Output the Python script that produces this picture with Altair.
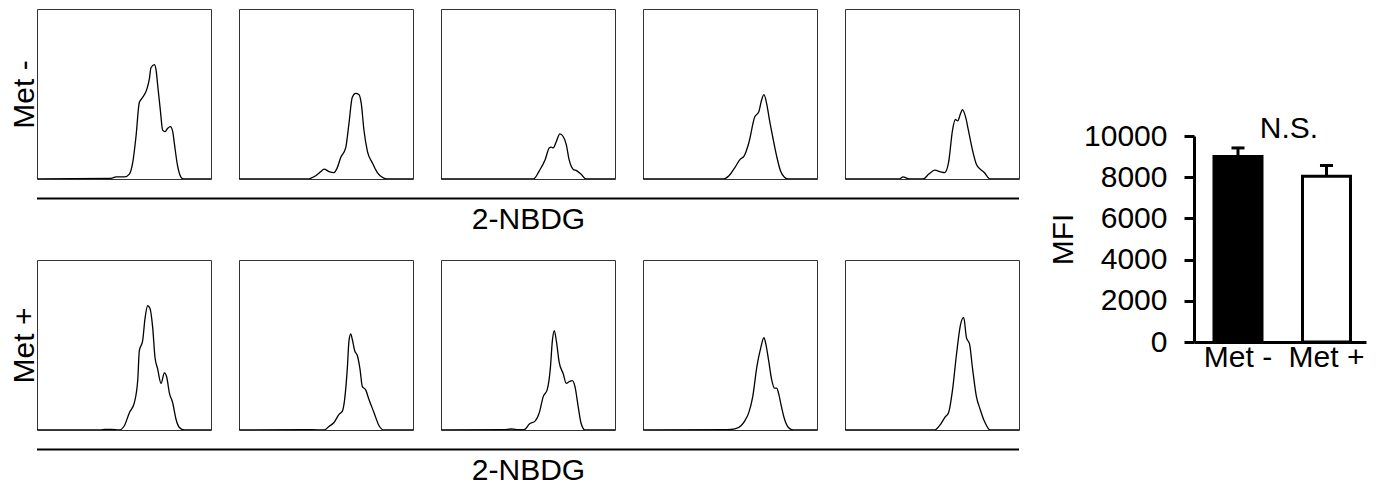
import altair as alt
import pandas as pd

FONT = "Liberation Sans"
FS = 30

# ---- flow histograms: x = % along 2-NBDG axis, y = % of panel height ----
# Met - samples
mm1_x = [0, 42.5, 45.4, 50.2, 53.1, 55.0, 56.9, 58.8, 60.7, 63.2, 64.6, 65.5, 67.4, 68.4, 69.3, 70.9, 72.2, 73.6, 75.1, 76.6, 78.0, 78.9, 80.8, 82.8, 84.3, 100]
mm1_y = [0, 0.4, 1.3, 1.2, 2.9, 9.6, 25, 45, 48, 53, 59, 65.4, 67.3, 64.4, 55.8, 40.4, 28.8, 27.9, 29.8, 30.8, 27.9, 21.2, 7.7, 1, 0, 0]
mm2_x = [0, 39.3, 44.1, 46.9, 48.9, 51.7, 54.6, 56.5, 58.4, 61.3, 63.2, 65.1, 67.0, 69.0, 70.3, 71.8, 73.8, 76.6, 79.5, 82.4, 85.2, 100]
mm2_y = [0, 0, 1.9, 4.2, 5.8, 4.4, 3.8, 6.7, 12.5, 18.3, 32.7, 48.1, 50.4, 49.6, 44.2, 28.8, 16.3, 9.6, 3.8, 1.0, 0, 0]
mm3_x = [0, 53.1, 56.5, 59.9, 62.2, 63.3, 64.5, 66.3, 68.3, 70.2, 72.0, 73.6, 75.9, 78.1, 80.4, 83.4, 100]
mm3_y = [0, 0, 4.8, 11.5, 18.3, 18.8, 18.3, 22.1, 26.5, 25.0, 20.2, 11.5, 5.8, 4.8, 2.9, 0, 0]
mm4_x = [0, 46.0, 49.4, 52.8, 55.8, 58.1, 60.8, 64.2, 66.5, 68.1, 69.5, 71.1, 72.7, 74.5, 76.8, 79.0, 81.3, 83.6, 100]
mm4_y = [0, 0, 1.9, 6.7, 11.5, 13.5, 21.2, 36.5, 39.4, 46.2, 49.6, 44.2, 34.6, 25.0, 13.5, 4.8, 1.0, 0, 0]
mm5_x = [0, 31.1, 33.4, 35.7, 38.0, 44.8, 48.2, 51.6, 55.0, 57.3, 59.5, 61.8, 63.4, 64.8, 66.4, 67.5, 69.3, 70.9, 73.2, 75.5, 77.7, 80.0, 83.4, 100]
mm5_y = [0, 0, 1.3, 0.4, 0, 0, 2.9, 5.2, 4.2, 3.8, 9.6, 28.8, 35.0, 34.2, 38.5, 40.8, 36.5, 28.8, 17.3, 8.7, 5.8, 3.8, 0, 0]

# Met + samples
mp1_x = [0, 36.8, 38.7, 42.5, 47.3, 50.2, 53.1, 55.9, 57.9, 58.8, 60.7, 62.1, 63.6, 64.9, 66.5, 67.8, 69.3, 71.3, 73.2, 74.5, 76.1, 78.0, 79.9, 81.8, 84.7, 100]
mp1_y = [0, 0, 0.4, 0.4, 0, 2.5, 10.2, 15.9, 29.4, 46.6, 52.4, 65.8, 73.1, 71.6, 60.1, 42.8, 36.1, 27.4, 33.6, 31.3, 21.7, 15.9, 6.3, 1.5, 0, 0]
mp2_x = [0, 37.4, 42.1, 48.9, 51.7, 54.6, 57.5, 59.4, 60.7, 62.3, 63.2, 64.2, 65.1, 66.5, 68.0, 69.5, 70.9, 72.8, 74.7, 77.6, 80.5, 83.3, 100]
mp2_y = [0, 0.2, 0.2, 0, 2.1, 4.4, 9.2, 11.1, 17.9, 37.0, 52.4, 56.6, 53.4, 46.6, 43.8, 36.1, 25.5, 23.6, 17.9, 10.2, 2.5, 0, 0]
mp3_x = [0, 36.0, 40.5, 45.1, 47.8, 50.8, 54.2, 56.5, 58.8, 61.0, 62.9, 64.0, 65.1, 66.3, 67.9, 70.2, 72.0, 73.6, 75.4, 77.0, 78.8, 80.4, 82.7, 100]
mp3_y = [0, 0.2, 0.6, 0.2, 0.2, 3.5, 5.4, 10.2, 19.8, 23.6, 37.0, 52.4, 58.5, 52.4, 39.9, 33.2, 27.4, 28.4, 29.0, 25.5, 14.0, 4.4, 0, 0]
mp4_x = [0, 48.3, 52.8, 56.3, 58.5, 60.8, 63.1, 65.4, 67.7, 69.5, 70.6, 72.2, 74.0, 75.6, 76.8, 77.9, 79.5, 81.3, 83.6, 86.3, 100]
mp4_y = [0, 0.2, 0.6, 2.5, 5.4, 10.2, 19.8, 37.0, 48.5, 54.3, 50.5, 40.9, 29.4, 24.6, 24.6, 21.7, 14.0, 6.5, 1.5, 0, 0]
mp5_x = [0, 51.6, 55.0, 57.3, 59.5, 61.8, 64.1, 66.4, 68.2, 69.8, 71.6, 73.2, 75.5, 77.7, 80.0, 83.4, 100]
mp5_y = [0, 0, 3.5, 7.3, 10.2, 23.6, 44.7, 62.0, 66.2, 54.3, 50.5, 37.0, 19.8, 12.1, 5.4, 0, 0]

# ---- bar chart ----
groups = ["Met -", "Met +"]
mfi_mean = [9000, 8050]
mfi_sem = [420, 520]
mfi_ticks = [0, 2000, 4000, 6000, 8000, 10000]
sig_label = ["N.S."]

ROW_LABELS = ["Met -", "Met +"]
X_LABEL = "2-NBDG"

PW, PH = 174, 170


def panel(xs, ys, row_title=None):
    df = pd.DataFrame({"x": xs, "y": ys})
    if row_title:
        y_axis = alt.Axis(title=row_title, labels=False, ticks=False, domain=False, grid=False,
                          titleFontSize=FS, titleFont=FONT, titleFontWeight="normal",
                          titleColor="black", titlePadding=-2)
    else:
        y_axis = None
    return alt.Chart(df).mark_line(color="black", strokeWidth=1.3, interpolate="monotone",
                                   strokeJoin="round", clip=True).encode(
        x=alt.X("x:Q", scale=alt.Scale(domain=[0, 100], nice=False, zero=False), axis=None),
        y=alt.Y("y:Q", scale=alt.Scale(domain=[0, 100], nice=False), axis=y_axis),
    ).properties(width=PW, height=PH)


def axis_line():
    df = pd.DataFrame({"start": [0], "end": [100]})
    return alt.Chart(df).mark_rule(color="black", strokeWidth=2).encode(
        x=alt.X("start:Q", scale=alt.Scale(domain=[0, 100], nice=False),
                axis=alt.Axis(title=X_LABEL, labels=False, ticks=False, domain=False, grid=False,
                              titleFontSize=FS, titleFont=FONT, titleFontWeight="normal",
                              titleColor="black", titlePadding=5)),
        x2="end:Q",
    ).properties(width=982, height=1, view=alt.ViewBackground(stroke="transparent"))


row1 = alt.hconcat(
    panel(mm1_x, mm1_y, ROW_LABELS[0]), panel(mm2_x, mm2_y), panel(mm3_x, mm3_y),
    panel(mm4_x, mm4_y), panel(mm5_x, mm5_y), spacing=28, bounds="flush")
row2 = alt.hconcat(
    panel(mp1_x, mp1_y, ROW_LABELS[1]), panel(mp2_x, mp2_y), panel(mp3_x, mp3_y),
    panel(mp4_x, mp4_y), panel(mp5_x, mp5_y), spacing=28, bounds="flush")

left = alt.vconcat(
    alt.vconcat(row1, axis_line(), spacing=17),
    alt.vconcat(row2, axis_line(), spacing=17),
    spacing=24)

bar_df = pd.DataFrame({
    "group": groups,
    "mean": mfi_mean,
    "upper": [m + s for m, s in zip(mfi_mean, mfi_sem)],
})

BH = 333
yscale = alt.Scale(domain=[0, 10000], range=[BH, 127], nice=False)
xscale = alt.Scale(domain=groups, paddingInner=0.4576, paddingOuter=0.2006, align=0.563)

base = alt.Chart(bar_df)
bars = base.mark_bar(stroke="black", strokeWidth=3).encode(
    x=alt.X("group:N", scale=xscale, sort=groups,
            axis=alt.Axis(title=None, labelAngle=0, labelAlign="center", ticks=False, tickSize=0,
                          labelPadding=15, labelFontSize=FS, labelFont=FONT, labelColor="black",
                          domainColor="black", domainWidth=3)),
    y=alt.Y("mean:Q", scale=yscale,
            axis=alt.Axis(title="MFI", values=mfi_ticks, format="d", grid=False,
                          tickSize=10, tickWidth=3, tickColor="black",
                          domainColor="black", domainWidth=3,
                          labelFontSize=FS, labelFont=FONT, labelColor="black", labelPadding=17,
                          titleFontSize=FS, titleFont=FONT, titleFontWeight="normal",
                          titleColor="black", titlePadding=5)),
    fill=alt.Fill("group:N", scale=alt.Scale(domain=groups, range=["black", "white"]), legend=None),
)
err = base.mark_rule(color="black", strokeWidth=3).encode(
    x=alt.X("group:N", scale=xscale, sort=groups),
    y=alt.Y("mean:Q", scale=yscale),
    y2="upper:Q",
)
caps = base.mark_tick(color="black", thickness=3, size=13, opacity=1).encode(
    x=alt.X("group:N", scale=xscale, sort=groups),
    y=alt.Y("upper:Q", scale=yscale),
)
ns = alt.Chart(pd.DataFrame({"label": sig_label})).mark_text(
    fontSize=FS, font=FONT, color="black", baseline="alphabetic", align="center", dx=51, dy=2
).encode(
    x=alt.datum(groups[0]),
    y=alt.datum(10000),
    text="label:N",
)

bar_chart = alt.layer(err, bars, caps, ns).properties(
    width=172, height=BH,
    view=alt.ViewBackground(stroke="transparent"),
)

chart = alt.hconcat(left, bar_chart, spacing=27).properties(
    padding={"left": 0, "top": 0, "right": 0, "bottom": 0},
    background="white",
).configure(font=FONT).configure_view(stroke="#333333", strokeWidth=1)

chart.save("out.html", embed_options={"renderer": "svg", "actions": False})
